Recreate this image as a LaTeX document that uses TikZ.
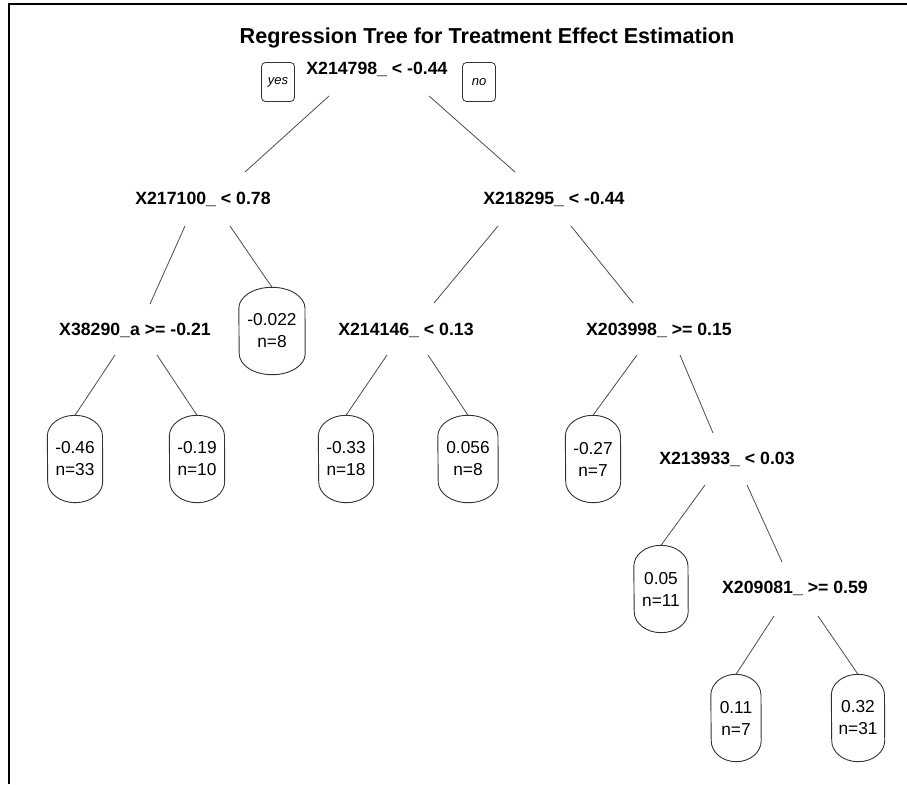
\documentclass[tikz,border=0pt]{standalone}
\usepackage{fontspec}
\setmainfont{Liberation Sans}
\newcommand{\leafnode}[5]{%
  \node[leaf, minimum width=#4*2pt] (#1) at (#2,#3) {#5};
  \draw[leafline] (#1.north) arc[start angle=90,end angle=0,x radius=#4pt,y radius=21pt]
    -- ([yshift=21pt]#1.south east) arc[start angle=0,end angle=-90,x radius=#4pt,y radius=21pt]
    arc[start angle=270,end angle=180,x radius=#4pt,y radius=21pt]
    -- ([yshift=-21pt]#1.north west) arc[start angle=180,end angle=90,x radius=#4pt,y radius=21pt] -- cycle;}
\begin{document}
\begin{tikzpicture}[x=1pt,y=1pt,
  split/.style={font=\fontsize{17.7}{20}\selectfont\bfseries, inner sep=0pt},
  leaf/.style={font=\fontsize{17.3}{22}\selectfont, align=center, inner sep=0pt, minimum height=87pt},
  tag/.style={draw=black!80, line width=0.8pt, rounded corners=4pt, minimum width=33pt, minimum height=39pt, inner sep=0pt, font=\fontsize{13}{15}\selectfont\itshape},
  edge/.style={draw=black!70, line width=0.8pt},
  leafline/.style={draw=black!80, line width=0.9pt},
  frame/.style={line width=1.6pt}]
\useasboundingbox (0,0) rectangle (907,-784);
\draw[frame] (9,-784) -- (9,-4) -- (907,-4);

\node[font=\fontsize{21.6}{24}\selectfont\bfseries, inner sep=0pt] (title) at (487,-38) {Regression Tree for Treatment Effect Estimation};

\node[split] (root) at (377,-69) {X214798\_ < -0.44};
\node[tag] (yes) at (278,-82) {yes};
\node[tag] (no) at (479,-82) {no};

\node[split] (n2) at (203,-199) {X217100\_ < 0.78};
\node[split] (n3) at (554,-199) {X218295\_ < -0.44};
\node[split] (n4) at (135,-330) {X38290\_a >= -0.21};
\node[split] (n6) at (406,-330) {X214146\_ < 0.13};
\node[split] (n7) at (659,-330) {X203998\_ >= 0.15};
\node[split] (n13) at (727,-459) {X213933\_ < 0.03};
\node[split] (n15) at (795,-588) {X209081\_ >= 0.59};

\leafnode{l5}{272}{-331}{33}{-0.022\\n=8}
\leafnode{l8}{75}{-459}{27.5}{-0.46\\n=33}
\leafnode{l9}{197}{-459}{27.5}{-0.19\\n=10}
\leafnode{l10}{346}{-459}{27.5}{-0.33\\n=18}
\leafnode{l11}{468}{-459}{30}{0.056\\n=8}
\leafnode{l12}{593}{-459}{27.5}{-0.27\\n=7}
\leafnode{l14}{661}{-589}{27}{0.05\\n=11}
\leafnode{l16}{736}{-718}{25}{0.11\\n=7}
\leafnode{l17}{858}{-718}{26.5}{0.32\\n=31}

\draw[edge] ([shift={(-48,-27)}]root.center) -- ([shift={(42,27)}]n2.center);
\draw[edge] ([shift={(52,-27)}]root.center) -- ([shift={(-39,27)}]n3.center);
\draw[edge] ([shift={(-18,-27)}]n2.center) -- ([shift={(15,26)}]n4.center);
\draw[edge] ([shift={(27,-27)}]n2.center) -- (l5.north);
\draw[edge] ([shift={(-56,-27)}]n3.center) -- ([shift={(28,27)}]n6.center);
\draw[edge] ([shift={(17,-27)}]n3.center) -- ([shift={(-26,27)}]n7.center);
\draw[edge] ([shift={(-20,-25)}]n4.center) -- (l8.north);
\draw[edge] ([shift={(22,-25)}]n4.center) -- (l9.north);
\draw[edge] ([shift={(-19,-25)}]n6.center) -- (l10.north);
\draw[edge] ([shift={(22,-25)}]n6.center) -- (l11.north);
\draw[edge] ([shift={(-22,-25)}]n7.center) -- (l12.north);
\draw[edge] ([shift={(21,-25)}]n7.center) -- ([shift={(-14,26)}]n13.center);
\draw[edge] ([shift={(-22,-26)}]n13.center) -- (l14.north);
\draw[edge] ([shift={(20,-26)}]n13.center) -- ([shift={(-13,26)}]n15.center);
\draw[edge] ([shift={(-21,-28)}]n15.center) -- (l16.north);
\draw[edge] ([shift={(23,-28)}]n15.center) -- (l17.north);
\end{tikzpicture}
\end{document}
